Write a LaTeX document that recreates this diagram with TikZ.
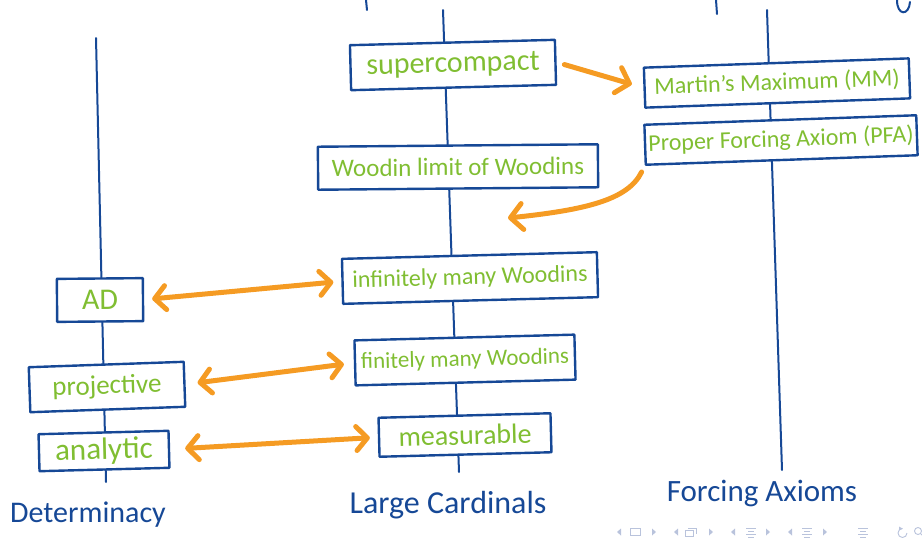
\documentclass[tikz,border=0pt]{standalone}
\usepackage{fontspec}
\setmainfont{Carlito}
\usetikzlibrary{arrows.meta}
\definecolor{penblue}{RGB}{22,72,150}
\definecolor{pengreen}{RGB}{128,190,50}
\definecolor{penorange}{RGB}{245,155,35}
\definecolor{navc}{RGB}{185,195,220}
\tikzset{
  box/.style={draw=penblue, line width=2.4pt, fill=white, inner sep=0pt, text=pengreen, line join=round},
  axis/.style={draw=penblue, line width=2pt, line cap=round},
  lbl/.style={text=penblue, inner sep=0pt},
  oarr/.style={draw=penorange, line width=5pt, line cap=round,
     -{Straight Barb[length=12pt,width=26pt,line width=5pt,round]}},
  darr/.style={draw=penorange, line width=5pt, line cap=round,
     {Straight Barb[length=11pt,width=24pt,line width=5pt,round]}-{Straight Barb[length=11pt,width=24pt,line width=5pt,round]}},
  nav/.style={navc, line width=0.9pt},
}
\begin{document}
\begin{tikzpicture}[x=1pt,y=-1pt]
\useasboundingbox (0,0) rectangle (922,539);
% axes
\coordinate (dtop) at (96,38);  \coordinate (dbot) at (106,482);
\coordinate (ltop) at (443,10); \coordinate (lbot) at (459,472);
\coordinate (ftop) at (767,10); \coordinate (fbot) at (782,470);
\draw[axis] (dtop) -- (dbot);
\draw[axis] (ltop) -- (lbot);
\draw[axis] (ftop) -- (fbot);
% fragments at the top edge
\coordinate (t1a) at (366,0); \coordinate (t1b) at (367,10);
\coordinate (t2a) at (716,0); \coordinate (t2b) at (717,14);
\draw[axis] (t1a) -- (t1b);
\draw[axis] (t2a) -- (t2b);
\draw[axis] (897,0) .. controls (897,16) and (909,16) .. (910,2);
% large cardinals
\node[box, minimum width=205pt, minimum height=45pt, rotate=1.5, font=\fontsize{30}{30}\selectfont] (super) at (453,65) {supercompact};
\node[box, minimum width=280pt, minimum height=43pt, rotate=0.5, font=\fontsize{25}{25}\selectfont] (wlw) at (458,167) {Woodin limit of Woodins};
\node[box, minimum width=255pt, minimum height=45pt, rotate=1.5, font=\fontsize{24}{24}\selectfont] (inf) at (470,278) {infinitely many Woodins};
\node[box, minimum width=220pt, minimum height=45pt, rotate=1.5, font=\fontsize{23}{23}\selectfont] (fin) at (465,360) {finitely many Woodins};
\node[box, minimum width=172pt, minimum height=39pt, rotate=1.5, font=\fontsize{28}{28}\selectfont] (meas) at (465,435) {measurable};
% forcing axioms
\node[box, minimum width=265pt, minimum height=40pt, rotate=2, font=\fontsize{24}{24}\selectfont] (mm) at (777,83) {Martin's Maximum (MM)};
\node[box, minimum width=272pt, minimum height=40pt, rotate=2, font=\fontsize{24}{24}\selectfont] (pfa) at (781,140) {Proper Forcing Axiom (PFA)};
% determinacy
\node[box, minimum width=86pt, minimum height=43pt, rotate=0.5, font=\fontsize{30}{30}\selectfont] (ad) at (100,300) {AD};
\node[box, minimum width=155pt, minimum height=45pt, rotate=2, font=\fontsize{27}{27}\selectfont] (proj) at (107,387) {projective};
\node[box, minimum width=130pt, minimum height=37pt, rotate=1.5, font=\fontsize{31}{31}\selectfont] (anal) at (104,451) {analytic};
% labels
\node[lbl, font=\fontsize{30}{30}\selectfont] (ldet) at (88,515) {Determinacy};
\node[lbl, font=\fontsize{32}{32}\selectfont] (llc) at (448,505) {Large Cardinals};
\node[lbl, font=\fontsize{31}{31}\selectfont] (lfa) at (762,493) {Forcing Axioms};
% arrows
\draw[oarr, shorten <=8pt, shorten >=12pt] (super.east) -- (mm.west);
\coordinate (a2end) at (508,218);
\draw[oarr] ([shift={(-3,6)}]pfa.south west) .. controls (628,200) and (585,210) .. (a2end);
\draw[darr, shorten <=8pt, shorten >=8pt] (ad.east) -- (inf.west);
\draw[darr, shorten <=12pt, shorten >=10pt] (proj.east) -- (fin.west);
\draw[darr, shorten <=15pt, shorten >=8pt] (anal.east) -- (meas.west);
% navigation symbols
\begin{scope}[nav]
\foreach \x in {617,674,731,788} \fill (\x,532) -- (\x+4,528.5) -- (\x+4,535.5) -- cycle;
\foreach \x in {652,709,766,823} \fill (\x+4,532) -- (\x,528.5) -- (\x,535.5) -- cycle;
\draw (630,528.5) rectangle (640,535.5);
\draw (685,530.5) rectangle (693,536);
\draw (688,528.5) -- (696,528.5) -- (696,533.5);
\foreach \x in {746,802,858} {
  \draw (\x,528) -- (\x+10,528);
  \draw (\x+2,531) -- (\x+8,531);
  \draw (\x,534) -- (\x+10,534);
  \draw (\x+2,537) -- (\x+8,537);
}
\draw (907,533) arc (0:270:4.5);
\fill (902.5,528.5) -- (899,526.5) -- (899,530.5) -- cycle;
\draw (918,531) circle (3.5);
\draw (920.5,533.5) -- (923,536);
\end{scope}
\end{tikzpicture}
\end{document}
